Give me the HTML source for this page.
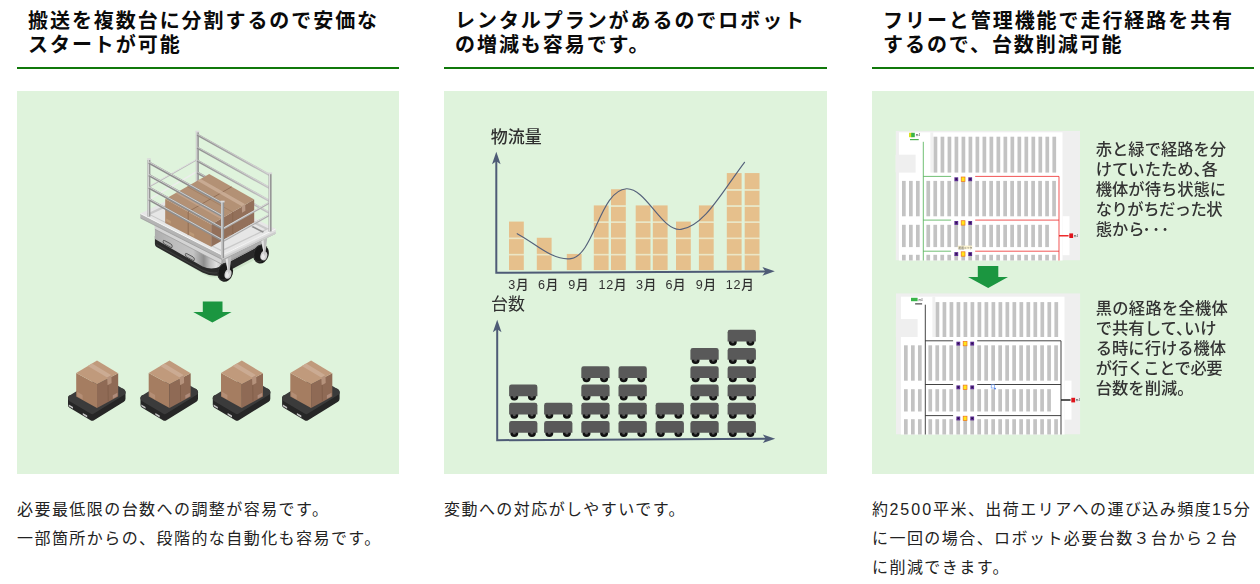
<!DOCTYPE html>
<html lang="ja">
<head>
<meta charset="utf-8">
<title>AMR</title>
<style>
*{box-sizing:border-box;margin:0;padding:0}
html,body{width:1260px;height:584px;overflow:hidden;background:#fff}
body{font-family:"Liberation Sans","Noto Sans CJK JP",sans-serif;color:#111;position:relative}
.col{position:absolute;top:0;width:383px}
.c1{left:17px;width:382px}.c2{left:444px}.c3{left:872px;width:382px}
h3{font-size:20px;line-height:24px;font-weight:700;letter-spacing:1.94px;padding:9px 0 0 11px;height:69px;border-bottom:2px solid #10780a;color:#0a0a0a;white-space:nowrap}
.fig{position:absolute;top:91px;left:0;width:100%;height:383px;background:#dff3dc;overflow:hidden}
.fig svg{position:absolute;left:0;top:0;filter:blur(0.35px)}
p.txt{position:absolute;top:496px;left:0;font-size:16px;line-height:28.8px;letter-spacing:1.44px;color:#222;white-space:nowrap}
.n{letter-spacing:2.0px}.n2{letter-spacing:1.9px}
</style>
</head>
<body>
<div class="col c1">
<h3>搬送を複数台に分割するので安価な<br>スタートが可能</h3>
<div class="fig">
<svg width="383" height="383" viewBox="17 91 383 383">
<defs><g id="amr">
<polygon points="-25.6,37.7 -4.8,50.1 25.1,31.6 25.1,38.2 -4.8,56.7 -25.6,44.3" fill="#262626" stroke="#262626" stroke-width="6.8" stroke-linejoin="round"/>
<polygon points="-25.6,37.7 -4.8,50.1 25.1,31.6 4.3,19.2" fill="#3b3b3b" stroke="#3b3b3b" stroke-width="6.8" stroke-linejoin="round"/>
<polygon points="-28.2,43.8 -24.0,46.3 -24.0,48.1 -28.2,45.6" fill="#c6c6c6"/>
<polygon points="-14.2,52.4 -9.8,55.0 -9.8,56.8 -14.2,54.2" fill="#c6c6c6"/>
<polygon points="-20.8,12.4 0.0,23.6 0.0,47.4 -20.8,35.9" fill="#a57d61"/>
<polygon points="0.0,23.6 21.2,12.6 21.2,35.8 0.0,47.4" fill="#8f6a55"/>
<polygon points="0.0,0.0 21.2,12.6 0.0,23.6 -20.8,12.4" fill="#c09a7c"/>
<polygon points="-9.2,5.5 -5,3 14.4,14.6 10.2,17" fill="#cbab93"/>
<polygon points="10.2,17 14.4,14.6 14.6,22.5 10.6,24.6" fill="#b5927c"/>
<polygon points="10.6,24.6 11.4,24.2 11.6,40.4 10.8,40.8" fill="#7f5c48"/>
<polygon points="-19.8,31.2 -14.4,34.4 -14.4,38.9 -19.8,35.7" fill="#b48e75"/>
<polygon points="15.8,34.7 20.4,32.1 20.4,35.6 15.8,38.2" fill="#ae8b7b"/>
</g></defs>
<defs><linearGradient id="gbody" gradientUnits="userSpaceOnUse" x1="155" y1="0" x2="221" y2="0"><stop offset="0" stop-color="#adadad"/><stop offset="0.3" stop-color="#bebebe"/><stop offset="0.58" stop-color="#c4c4c4"/><stop offset="0.68" stop-color="#a2a2a2"/><stop offset="0.74" stop-color="#8e8e8e"/><stop offset="0.83" stop-color="#bdbdbd"/><stop offset="0.93" stop-color="#e0e0e0"/><stop offset="1" stop-color="#c8c8c8"/></linearGradient><linearGradient id="grail" gradientUnits="userSpaceOnUse" x1="197" y1="0" x2="270" y2="0"><stop offset="0" stop-color="#909090"/><stop offset="0.5" stop-color="#a8a8a8"/><stop offset="1" stop-color="#c4c4c4"/></linearGradient></defs>
<path d="M157 247 L204 274.5 Q212 279 222 277 L268 253 L262 248 L215 270 Z" fill="#cfe5cb"/>
<path d="M154.9 236 L154.9 244.0 Q155 246.2 157 247.3 L202.4 272.6 Q211.5 277.2 220.5 275.2 L262 253 L262 240 L220 262 L205 262 Z" fill="#2a2a2a"/>
<path d="M156.5 244.6 L203 270.4 Q211.5 274.4 219.5 272.4" fill="none" stroke="#3c3c3c" stroke-width="1.2"/>
<path d="M154.9 223.5 L154.9 238.9 L202.6 266.6 Q211.5 270.6 220.6 266.4 L262 244.6 L262 232 L222 252 Z" fill="url(#gbody)"/>
<path d="M220.6 266.4 L262 244.6 L262 232 L222.6 252.5 Z" fill="#9b9b9b"/>
<path d="M154.9 222 L154.9 229.2 L221.4 264 L221.4 256.5 Z" fill="#d4d4d4"/>
<path d="M154.9 229.2 L221.4 264" stroke="#9a9a9a" stroke-width="0.7" fill="none"/>
<path d="M222.4 264 L262 243.4 L262 236 L222.4 256.5 Z" fill="#adadad"/>
<path d="M164.6 240.6 l6.2 3.3 q1.4 0.9 1.4 2.4 v0.5 q0 1.3 -1.4 0.6 l-6.2 -3.3 q-1.4 -0.9 -1.4 -2.4 v-0.5 q0 -1.3 1.4 -0.6 z" fill="#b2b2b2" stroke="#444" stroke-width="0.8"/>
<path d="M186.8 253.6 l6.2 3.3 q1.4 0.9 1.4 2.4 v0.5 q0 1.3 -1.4 0.6 l-6.2 -3.3 q-1.4 -0.9 -1.4 -2.4 v-0.5 q0 -1.3 1.4 -0.6 z" fill="#b2b2b2" stroke="#444" stroke-width="0.8"/>
<ellipse cx="261.0" cy="254.0" rx="7.7" ry="9.6" transform="rotate(15 261.0 254.0)" fill="#1a1a1a"/>
<ellipse cx="259.7" cy="253.6" rx="5.8" ry="8.4" transform="rotate(15 259.7 253.6)" fill="none" stroke="#383838" stroke-width="0.8"/>
<ellipse cx="263.8" cy="255.8" rx="3.4" ry="4.7" transform="rotate(15 263.8 255.8)" fill="#cfcfcf"/>
<ellipse cx="263.3" cy="256.4" rx="1.9" ry="3.0" transform="rotate(15 263.3 256.4)" fill="#e9e9e9"/>
<path d="M261.4 241.0 L267.2 238.0 L265.6 252.0 L264.4 256.2 L263.4 252.0 Z" fill="#bdbdbd"/>
<path d="M261.4 241.0 L263.6 239.9 L264.4 256.2 L263.4 252.0 Z" fill="#e2e2e2"/>
<ellipse cx="225.2" cy="272.3" rx="7.7" ry="9.6" transform="rotate(15 225.2 272.3)" fill="#1a1a1a"/>
<ellipse cx="223.89999999999998" cy="271.90000000000003" rx="5.8" ry="8.4" transform="rotate(15 223.89999999999998 271.90000000000003)" fill="none" stroke="#383838" stroke-width="0.8"/>
<ellipse cx="228.0" cy="274.1" rx="3.4" ry="4.7" transform="rotate(15 228.0 274.1)" fill="#cfcfcf"/>
<ellipse cx="227.5" cy="274.7" rx="1.9" ry="3.0" transform="rotate(15 227.5 274.7)" fill="#e9e9e9"/>
<path d="M225.6 259.3 L231.4 256.3 L229.8 270.3 L228.6 274.5 L227.6 270.3 Z" fill="#bdbdbd"/>
<path d="M225.6 259.3 L227.8 258.2 L228.6 274.5 L227.6 270.3 Z" fill="#e2e2e2"/>
<polygon points="140.4,213.6 222.0,255.0 222.0,259.4 140.4,218.0" fill="#b4b4b4"/>
<polyline points="140.4,218.0 222.0,259.4 275.7,233.4" fill="none" stroke="#9c9c9c" stroke-width="0.8"/>
<polygon points="222.0,255.0 275.7,229.0 275.7,233.4 222.0,259.4" fill="#e0e0e0"/>
<polygon points="222.0,257.6 275.7,231.6 275.7,233.4 222.0,259.4" fill="#cdcdcd"/>
<polygon points="140.4,213.6 222.0,255.0 275.7,229.0 194.1,187.6" fill="#e6e6e6"/>
<polyline points="140.4,213.6 222.0,255.0 275.7,229.0" fill="none" stroke="#f8f8f8" stroke-width="0.9"/>
<polygon points="147.0,213.8 221.8,251.6 269.0,228.8 194.3,191.2" fill="#c9c9c9"/>
<polygon points="150.6,214.4 221.6,250.0 265.2,229.2 194.5,194.0" fill="#e6e6e6"/>
<polygon points="253,226.0 264.2,231.8 262.6,232.7 251.4,226.9" fill="#8f8f8f"/>
<g stroke="#b9b9b9" stroke-width="1.5" fill="none"><path d="M148.9 186.8 L197.3 159.4"/></g>
<g stroke="#ededed" stroke-width="1.5" fill="none"><path d="M148.9 199.7 L197.3 171.4"/></g>
<g stroke="#f3f3f3" stroke-width="0.6" fill="none"><path d="M148.9 186.3 L197.3 158.9"/></g>
<rect x="195.9" y="131.2" width="3" height="58" fill="#979797"/><rect x="196.2" y="131.2" width="1.1" height="58" fill="#dedede"/><rect x="195.4" y="130.7" width="4" height="1.7" fill="#dcdcdc"/>
<path d="M197.3 134.7 L270 175.3" stroke="url(#grail)" stroke-width="2.4"/>
<path d="M197.3 134.1 L270 174.7" stroke="#e4e4e4" stroke-width="0.6"/>
<path d="M197.3 147.7 L270 188.3" stroke="url(#grail)" stroke-width="2.4"/>
<path d="M197.3 147.1 L270 187.7" stroke="#e4e4e4" stroke-width="0.6"/>
<path d="M197.3 160.7 L270 201.3" stroke="url(#grail)" stroke-width="2.4"/>
<path d="M197.3 160.1 L270 200.7" stroke="#e4e4e4" stroke-width="0.6"/>
<path d="M197.3 172.6 L270 213.2" stroke="url(#grail)" stroke-width="2.4"/>
<path d="M197.3 172.0 L270 212.6" stroke="#e4e4e4" stroke-width="0.6"/>
<polygon points="165.2,199.0 211.2,224.6 211.2,246.8 165.2,223.0" fill="#ae896b"/>
<polygon points="211.2,224.6 254.2,199.6 254.2,222.6 211.2,246.8" fill="#93705a"/>
<polygon points="165.2,199.0 209.2,174.1 254.2,199.6 211.2,224.6" fill="#b39175"/>
<g stroke="#86634b" stroke-width="0.7" fill="none"><path d="M188.2 211.8 L231.7 186.8"/><path d="M232.7 212.1 L187.2 186.6" opacity="0.5"/><path d="M188.2 211.8 v23.4"/><path d="M232.7 212.1 v22.799999999999997"/></g>
<polygon points="197.4,180.8 200.8,178.9 245.2,204.3 241.8,206.2" fill="#cdb09a" opacity="0.8"/>
<polygon points="175.6,193.0 179.0,191.1 223.4,216.5 220.0,218.4" fill="#cdb09a" opacity="0.55"/>
<polygon points="241.8,206.2 245.2,204.3 245.4,210.8 242.0,212.7" fill="#b99a86"/>
<polygon points="166.2,218.4 170.8,221 170.8,223.8 166.2,221.2" fill="#bd9a78"/><polygon points="189.4,231.4 194.2,234.1 194.2,237 189.4,234.3" fill="#bd9a78"/><polygon points="226.6,236.8 230.6,234.6 230.6,237.4 226.6,239.6" fill="#a8836c"/>
<g stroke="#adadad" stroke-width="2" fill="none"><path d="M222.5 229.2 L270 202.4"/><path d="M222.5 241.4 L270 214.6"/></g>
<g stroke="#ececec" stroke-width="0.7" fill="none"><path d="M222.5 228.6 L270 201.8"/><path d="M222.5 240.8 L270 214.0"/></g>
<rect x="268.6" y="173.0" width="3" height="58.6" fill="#979797"/><rect x="268.9" y="173.0" width="1.1" height="58.6" fill="#dcdcdc"/><rect x="268.1" y="172.5" width="4" height="1.7" fill="#d6d6d6"/>
<rect x="147.4" y="158.8" width="3" height="57.8" fill="#979797"/><rect x="147.7" y="158.8" width="1.1" height="57.8" fill="#e0e0e0"/><rect x="146.9" y="158.3" width="4" height="1.7" fill="#dddddd"/>
<path d="M148.9 162.6 L222.5 203.6" stroke="#8e8e8e" stroke-width="2.5"/>
<path d="M148.9 161.9 L222.5 202.9" stroke="#e0e0e0" stroke-width="0.8"/>
<path d="M148.9 175.2 L222.5 216.2" stroke="#8e8e8e" stroke-width="2.5"/>
<path d="M148.9 174.5 L222.5 215.5" stroke="#e0e0e0" stroke-width="0.8"/>
<path d="M148.9 187.6 L222.5 228.6" stroke="#8e8e8e" stroke-width="2.5"/>
<path d="M148.9 186.9 L222.5 227.9" stroke="#e0e0e0" stroke-width="0.8"/>
<path d="M148.9 199.4 L222.5 240.4" stroke="#8e8e8e" stroke-width="2.5"/>
<path d="M148.9 198.70000000000002 L222.5 239.7" stroke="#e0e0e0" stroke-width="0.8"/>
<rect x="221" y="201.2" width="3.1" height="57" fill="#959595"/><rect x="221.3" y="201.2" width="1.2" height="57" fill="#e0e0e0"/><rect x="220.5" y="200.7" width="4.1" height="1.7" fill="#dadada"/>
<path d="M202.8 301.5 H222.5 V312.1 H231.6 L212.4 322.4 L193.2 312.1 H202.8 Z" fill="#1b9640"/>
<use href="#amr" x="97.0" y="360.6"/>
<use href="#amr" x="169.5" y="360.6"/>
<use href="#amr" x="241.8" y="360.6"/>
<use href="#amr" x="311.1" y="360.6"/>
</svg>
</div>
<p class="txt">必要最低限の台数への調整が容易です。<br>一部箇所からの、段階的な自動化も容易です。</p>
</div>
<div class="col c2">
<h3>レンタルプランがあるのでロボット<br>の増減も容易です。</h3>
<div class="fig">
<svg width="383" height="383" viewBox="444 91 383 383">
<g fill="#e6c08c">
<rect x="509.0" y="255.23" width="14.8" height="14.87"/>
<rect x="509.0" y="239.06" width="14.8" height="14.87"/>
<rect x="509.0" y="221.59" width="14.8" height="16.17"/>
<rect x="536.8" y="255.23" width="14.8" height="14.87"/>
<rect x="536.8" y="237.76" width="14.8" height="16.17"/>
<rect x="566.8" y="253.93" width="14.8" height="16.17"/>
<rect x="593.8" y="255.23" width="14.8" height="14.87"/>
<rect x="593.8" y="239.06" width="14.8" height="14.87"/>
<rect x="593.8" y="222.89" width="14.8" height="14.87"/>
<rect x="593.8" y="205.42" width="14.8" height="16.17"/>
<rect x="611.0" y="255.23" width="14.8" height="14.87"/>
<rect x="611.0" y="239.06" width="14.8" height="14.87"/>
<rect x="611.0" y="222.89" width="14.8" height="14.87"/>
<rect x="611.0" y="206.72" width="14.8" height="14.87"/>
<rect x="611.0" y="189.25" width="14.8" height="16.17"/>
<rect x="635.7" y="255.23" width="14.8" height="14.87"/>
<rect x="635.7" y="239.06" width="14.8" height="14.87"/>
<rect x="635.7" y="222.89" width="14.8" height="14.87"/>
<rect x="635.7" y="205.42" width="14.8" height="16.17"/>
<rect x="652.8" y="255.23" width="14.8" height="14.87"/>
<rect x="652.8" y="239.06" width="14.8" height="14.87"/>
<rect x="652.8" y="222.89" width="14.8" height="14.87"/>
<rect x="652.8" y="205.42" width="14.8" height="16.17"/>
<rect x="676.0" y="255.23" width="14.8" height="14.87"/>
<rect x="676.0" y="239.06" width="14.8" height="14.87"/>
<rect x="676.0" y="221.59" width="14.8" height="16.17"/>
<rect x="698.9" y="255.23" width="14.8" height="14.87"/>
<rect x="698.9" y="239.06" width="14.8" height="14.87"/>
<rect x="698.9" y="222.89" width="14.8" height="14.87"/>
<rect x="698.9" y="205.42" width="14.8" height="16.17"/>
<rect x="726.8" y="255.23" width="14.8" height="14.87"/>
<rect x="726.8" y="239.06" width="14.8" height="14.87"/>
<rect x="726.8" y="222.89" width="14.8" height="14.87"/>
<rect x="726.8" y="206.72" width="14.8" height="14.87"/>
<rect x="726.8" y="190.55" width="14.8" height="14.87"/>
<rect x="726.8" y="173.08" width="14.8" height="16.17"/>
<rect x="744.7" y="255.23" width="14.8" height="14.87"/>
<rect x="744.7" y="239.06" width="14.8" height="14.87"/>
<rect x="744.7" y="222.89" width="14.8" height="14.87"/>
<rect x="744.7" y="206.72" width="14.8" height="14.87"/>
<rect x="744.7" y="190.55" width="14.8" height="14.87"/>
<rect x="744.7" y="173.08" width="14.8" height="16.17"/>
</g>
<g fill="#ece6c6">
<rect x="509.0" y="253.93" width="14.8" height="1.3"/>
<rect x="509.0" y="237.76" width="14.8" height="1.3"/>
<rect x="536.8" y="253.93" width="14.8" height="1.3"/>
<rect x="593.8" y="253.93" width="14.8" height="1.3"/>
<rect x="593.8" y="237.76" width="14.8" height="1.3"/>
<rect x="593.8" y="221.59" width="14.8" height="1.3"/>
<rect x="611.0" y="253.93" width="14.8" height="1.3"/>
<rect x="611.0" y="237.76" width="14.8" height="1.3"/>
<rect x="611.0" y="221.59" width="14.8" height="1.3"/>
<rect x="611.0" y="205.42" width="14.8" height="1.3"/>
<rect x="635.7" y="253.93" width="14.8" height="1.3"/>
<rect x="635.7" y="237.76" width="14.8" height="1.3"/>
<rect x="635.7" y="221.59" width="14.8" height="1.3"/>
<rect x="652.8" y="253.93" width="14.8" height="1.3"/>
<rect x="652.8" y="237.76" width="14.8" height="1.3"/>
<rect x="652.8" y="221.59" width="14.8" height="1.3"/>
<rect x="676.0" y="253.93" width="14.8" height="1.3"/>
<rect x="676.0" y="237.76" width="14.8" height="1.3"/>
<rect x="698.9" y="253.93" width="14.8" height="1.3"/>
<rect x="698.9" y="237.76" width="14.8" height="1.3"/>
<rect x="698.9" y="221.59" width="14.8" height="1.3"/>
<rect x="726.8" y="253.93" width="14.8" height="1.3"/>
<rect x="726.8" y="237.76" width="14.8" height="1.3"/>
<rect x="726.8" y="221.59" width="14.8" height="1.3"/>
<rect x="726.8" y="205.42" width="14.8" height="1.3"/>
<rect x="726.8" y="189.25" width="14.8" height="1.3"/>
<rect x="744.7" y="253.93" width="14.8" height="1.3"/>
<rect x="744.7" y="237.76" width="14.8" height="1.3"/>
<rect x="744.7" y="221.59" width="14.8" height="1.3"/>
<rect x="744.7" y="205.42" width="14.8" height="1.3"/>
<rect x="744.7" y="189.25" width="14.8" height="1.3"/>
</g>
<path d="M517.2 233.7 C535 243,552 261,571 258.6 C594 255.5,600 190,626.5 188.8 C646 188,662 232,681 229.4 C704 226.5,722 192,744.5 162.3" fill="none" stroke="#55617b" stroke-width="1.15" stroke-linecap="round"/>
<g stroke="#4e5b76" stroke-width="2" fill="none" stroke-linejoin="miter"><path d="M496.3 160 L496.3 272.8 L766 271.4"/></g>
<path d="M496.3 151.8 L500.6 164.2 L496.3 161.2 L492 164.2 Z" fill="#4e5b76"/>
<path d="M774.8 271.3 L762.4 275.7 L765.4 271.4 L762.4 267 Z" fill="#4e5b76"/>
<g stroke="#4e5b76" stroke-width="2" fill="none"><path d="M497.2 328 L497.2 440.2 L766 438.8"/></g>
<path d="M497.2 319.8 L501.5 332.2 L497.2 329.2 L492.9 332.2 Z" fill="#4e5b76"/>
<path d="M775.2 438.7 L762.8 443.1 L765.8 438.8 L762.8 434.4 Z" fill="#4e5b76"/>
<g font-family='"Liberation Sans","Noto Sans CJK JP",sans-serif' fill="#303030">
<text x="490.8" y="142.6" font-size="17" font-weight="500">物流量</text>
<text x="491" y="309.8" font-size="17" font-weight="400">台数</text>
<g font-size="12.6" font-weight="500" letter-spacing="0.7">
<text x="508.3" y="289.3">3月</text>
<text x="538.0" y="289.3">6月</text>
<text x="568.3" y="289.3">9月</text>
<text x="598.6" y="289.3">12月</text>
<text x="636.0" y="289.3">3月</text>
<text x="665.4" y="289.3">6月</text>
<text x="695.8" y="289.3">9月</text>
<text x="725.8" y="289.3">12月</text>
</g></g>
<defs><g id="rb"><circle cx="5.2" cy="12" r="4" fill="#111"/><circle cx="22.8" cy="12" r="4" fill="#111"/><circle cx="5.2" cy="12" r="1.5" fill="#555"/><circle cx="22.8" cy="12" r="1.5" fill="#555"/><path d="M0 11.7 V2.4 Q0 0 2.4 0 H25.9 Q28.3 0 28.3 2.4 V11.7 Z" fill="#595959"/></g></defs>
<use href="#rb" x="509.1" y="421.10"/>
<use href="#rb" x="509.1" y="402.85"/>
<use href="#rb" x="509.1" y="384.60"/>
<use href="#rb" x="544.1" y="421.10"/>
<use href="#rb" x="544.1" y="402.85"/>
<use href="#rb" x="581.3" y="421.10"/>
<use href="#rb" x="581.3" y="402.85"/>
<use href="#rb" x="581.3" y="384.60"/>
<use href="#rb" x="581.3" y="366.35"/>
<use href="#rb" x="618.5" y="421.10"/>
<use href="#rb" x="618.5" y="402.85"/>
<use href="#rb" x="618.5" y="384.60"/>
<use href="#rb" x="618.5" y="366.35"/>
<use href="#rb" x="655.6" y="421.10"/>
<use href="#rb" x="655.6" y="402.85"/>
<use href="#rb" x="690.4" y="421.10"/>
<use href="#rb" x="690.4" y="402.85"/>
<use href="#rb" x="690.4" y="384.60"/>
<use href="#rb" x="690.4" y="366.35"/>
<use href="#rb" x="690.4" y="348.10"/>
<use href="#rb" x="727.6" y="421.10"/>
<use href="#rb" x="727.6" y="402.85"/>
<use href="#rb" x="727.6" y="384.60"/>
<use href="#rb" x="727.6" y="366.35"/>
<use href="#rb" x="727.6" y="348.10"/>
<use href="#rb" x="727.6" y="329.85"/>
</svg>
</div>
<p class="txt">変動への対応がしやすいです。</p>
</div>
<div class="col c3">
<h3>フリーと管理機能で走行経路を共有<br>するので、台数削減可能</h3>
<div class="fig">
<svg width="388" height="383" viewBox="872 91 388 383">
<defs><clipPath id="clipcolor"><rect x="0" y="0" width="184.4" height="129.6"/></clipPath></defs>
<g transform="translate(895.6 130.8)" clip-path="url(#clipcolor)">
<rect x="0" y="0" width="184.4" height="129.6" fill="#efefef"/>
<g transform="translate(0 0)">
<rect x="3.3" y="1.5" width="163.6" height="200" fill="#fff"/>
<rect x="-5" y="23.9" width="25" height="17.9" fill="#efefef"/>
<rect x="166.9" y="85.4" width="7.0" height="39" fill="#fff"/>
<rect x="34.8" y="1.5" width="2.8" height="40.3" fill="#f1f1f1"/>
<g fill="#c3c3c3">
<rect x="38.00" y="5.9" width="3.7" height="35.9"/>
<rect x="44.99" y="5.9" width="3.7" height="35.9"/>
<rect x="51.98" y="5.9" width="3.7" height="35.9"/>
<rect x="58.97" y="5.9" width="3.7" height="35.9"/>
<rect x="65.96" y="5.9" width="3.7" height="35.9"/>
<rect x="72.95" y="5.9" width="3.7" height="35.9"/>
<rect x="79.94" y="5.9" width="3.7" height="35.9"/>
<rect x="86.93" y="5.9" width="3.7" height="35.9"/>
<rect x="93.92" y="5.9" width="3.7" height="35.9"/>
<rect x="100.91" y="5.9" width="3.7" height="35.9"/>
<rect x="107.90" y="5.9" width="3.7" height="35.9"/>
<rect x="114.89" y="5.9" width="3.7" height="35.9"/>
<rect x="121.88" y="5.9" width="3.7" height="35.9"/>
<rect x="128.87" y="5.9" width="3.7" height="35.9"/>
<rect x="135.86" y="5.9" width="3.7" height="35.9"/>
<rect x="142.85" y="5.9" width="3.7" height="35.9"/>
<rect x="149.84" y="5.9" width="3.7" height="35.9"/>
<rect x="156.83" y="5.9" width="3.7" height="35.9"/>
<rect x="6.40" y="50.1" width="3.7" height="35.4"/>
<rect x="13.39" y="50.1" width="3.7" height="35.4"/>
<rect x="20.38" y="50.1" width="3.7" height="35.4"/>
<rect x="30.80" y="50.1" width="3.7" height="35.4"/>
<rect x="37.79" y="50.1" width="3.7" height="35.4"/>
<rect x="44.78" y="50.1" width="3.7" height="35.4"/>
<rect x="51.77" y="50.1" width="3.7" height="35.4"/>
<rect x="58.76" y="50.1" width="3.7" height="35.4"/>
<rect x="65.75" y="50.1" width="3.7" height="35.4"/>
<rect x="72.74" y="50.1" width="3.7" height="35.4"/>
<rect x="79.73" y="50.1" width="3.7" height="35.4"/>
<rect x="86.72" y="50.1" width="3.7" height="35.4"/>
<rect x="93.71" y="50.1" width="3.7" height="35.4"/>
<rect x="100.70" y="50.1" width="3.7" height="35.4"/>
<rect x="107.69" y="50.1" width="3.7" height="35.4"/>
<rect x="114.68" y="50.1" width="3.7" height="35.4"/>
<rect x="121.67" y="50.1" width="3.7" height="35.4"/>
<rect x="128.66" y="50.1" width="3.7" height="35.4"/>
<rect x="135.65" y="50.1" width="3.7" height="35.4"/>
<rect x="142.64" y="50.1" width="3.7" height="35.4"/>
<rect x="149.63" y="50.1" width="3.7" height="35.4"/>
<rect x="156.62" y="50.1" width="3.7" height="35.4"/>
<rect x="6.40" y="94" width="3.7" height="22.3"/>
<rect x="13.39" y="94" width="3.7" height="22.3"/>
<rect x="20.38" y="94" width="3.7" height="22.3"/>
<rect x="30.80" y="94" width="3.7" height="22.3"/>
<rect x="37.79" y="94" width="3.7" height="22.3"/>
<rect x="44.78" y="94" width="3.7" height="22.3"/>
<rect x="51.77" y="94" width="3.7" height="22.3"/>
<rect x="58.76" y="94" width="3.7" height="22.3"/>
<rect x="65.75" y="94" width="3.7" height="22.3"/>
<rect x="72.74" y="94" width="3.7" height="22.3"/>
<rect x="79.73" y="94" width="3.7" height="22.3"/>
<rect x="86.72" y="94" width="3.7" height="22.3"/>
<rect x="93.71" y="94" width="3.7" height="22.3"/>
<rect x="100.70" y="94" width="3.7" height="22.3"/>
<rect x="107.69" y="94" width="3.7" height="22.3"/>
<rect x="114.68" y="94" width="3.7" height="22.3"/>
<rect x="121.67" y="94" width="3.7" height="22.3"/>
<rect x="128.66" y="94" width="3.7" height="22.3"/>
<rect x="135.65" y="94" width="3.7" height="22.3"/>
<rect x="142.64" y="94" width="3.7" height="22.3"/>
<rect x="149.63" y="94" width="3.7" height="22.3"/>
<rect x="6.40" y="124" width="3.7" height="26.0"/>
<rect x="13.39" y="124" width="3.7" height="26.0"/>
<rect x="20.38" y="124" width="3.7" height="26.0"/>
<rect x="30.80" y="124" width="3.7" height="26.0"/>
<rect x="37.79" y="124" width="3.7" height="26.0"/>
<rect x="44.78" y="124" width="3.7" height="26.0"/>
<rect x="51.77" y="124" width="3.7" height="26.0"/>
<rect x="58.76" y="124" width="3.7" height="26.0"/>
<rect x="65.75" y="124" width="3.7" height="26.0"/>
<rect x="72.74" y="124" width="3.7" height="26.0"/>
<rect x="79.73" y="124" width="3.7" height="26.0"/>
<rect x="86.72" y="124" width="3.7" height="26.0"/>
<rect x="93.71" y="124" width="3.7" height="26.0"/>
<rect x="100.70" y="124" width="3.7" height="26.0"/>
<rect x="107.69" y="124" width="3.7" height="26.0"/>
<rect x="114.68" y="124" width="3.7" height="26.0"/>
<rect x="121.67" y="124" width="3.7" height="26.0"/>
<rect x="128.66" y="124" width="3.7" height="26.0"/>
<rect x="135.65" y="124" width="3.7" height="26.0"/>
<rect x="142.64" y="124" width="3.7" height="26.0"/>
<rect x="149.63" y="124" width="3.7" height="26.0"/>
<rect x="156.62" y="124" width="3.7" height="26.0"/>
</g>
<g fill="none" stroke="#4caf50" stroke-width="0.8"><path d="M27.7 11 V160"/>
<path d="M27.7 45.6 H55.5"/>
<path d="M27.7 89.3 H55.5"/>
<path d="M27.7 120.4 H55.5"/>
</g>
<g fill="none" stroke="#ee2b2b" stroke-width="0.8"><path d="M163.4 45.6 V160"/>
<path d="M79.6 45.6 H163.4"/>
<path d="M79.6 89.3 H163.4"/>
<path d="M79.6 120.4 H163.4"/>
</g>
<path d="M163.4 104.9 H173" stroke="#ee2b2b" stroke-width="1.5"/>
<rect x="173.7" y="102.6" width="3.8" height="4.6" fill="#e0121c"/>
<rect x="13.4" y="2" width="3.6" height="4.4" fill="#d9e021"/><rect x="15.6" y="2" width="3.6" height="4.4" fill="#39b54a"/><rect x="14.4" y="8.2" width="8.7" height="1.2" fill="#4caf50"/>
<rect x="58.8" y="46.5" width="3.8" height="3.9" fill="#5b2a91"/><rect x="72.7" y="46.5" width="3.8" height="3.9" fill="#5b2a91"/>
<rect x="65.6" y="46.2" width="3.8" height="4.4" fill="#ffe61a" stroke="#f0731c" stroke-width="0.7"/>
<rect x="60" y="47.6" width="1.3" height="1.4" fill="#1c0d33"/><rect x="73.9" y="47.6" width="1.3" height="1.4" fill="#1c0d33"/>
<rect x="58.8" y="90.2" width="3.8" height="3.9" fill="#5b2a91"/><rect x="72.7" y="90.2" width="3.8" height="3.9" fill="#5b2a91"/>
<rect x="65.6" y="89.9" width="3.8" height="4.4" fill="#ffe61a" stroke="#f0731c" stroke-width="0.7"/>
<rect x="60" y="91.3" width="1.3" height="1.4" fill="#1c0d33"/><rect x="73.9" y="91.3" width="1.3" height="1.4" fill="#1c0d33"/>
<rect x="58.8" y="121.3" width="3.8" height="3.9" fill="#5b2a91"/><rect x="72.7" y="121.3" width="3.8" height="3.9" fill="#5b2a91"/>
<rect x="65.6" y="121.0" width="3.8" height="4.4" fill="#ffe61a" stroke="#f0731c" stroke-width="0.7"/>
<rect x="60" y="122.4" width="1.3" height="1.4" fill="#1c0d33"/><rect x="73.9" y="122.4" width="1.3" height="1.4" fill="#1c0d33"/>
<rect x="62.2" y="114.8" width="14.4" height="3.6" fill="#fbf2cf"/>
<text x="62.8" y="117.8" font-size="2.8" fill="#444" font-family='"Liberation Sans","Noto Sans CJK JP",sans-serif'>配置ドック</text>
<text x="20" y="5.6" font-size="2.8" fill="#333" font-family='"Liberation Sans","Noto Sans CJK JP",sans-serif'>日4</text>
<text x="178" y="106" font-size="2.8" fill="#333" font-family='"Liberation Sans","Noto Sans CJK JP",sans-serif'>日4</text>
</g></g>
<defs><clipPath id="clipblack"><rect x="0" y="0" width="184.4" height="141.4"/></clipPath></defs>
<g transform="translate(895.9 293.2)" clip-path="url(#clipblack)">
<rect x="0" y="0" width="184.4" height="141.4" fill="#efefef"/>
<g transform="translate(1.7 2.0)">
<rect x="3.3" y="1.5" width="163.6" height="200" fill="#fff"/>
<rect x="-5" y="23.9" width="25" height="17.9" fill="#efefef"/>
<rect x="166.9" y="85.4" width="7.0" height="39" fill="#fff"/>
<rect x="34.8" y="1.5" width="2.8" height="40.3" fill="#f1f1f1"/>
<g fill="#c3c3c3">
<rect x="38.00" y="6.9" width="3.7" height="34.9"/>
<rect x="44.99" y="6.9" width="3.7" height="34.9"/>
<rect x="51.98" y="6.9" width="3.7" height="34.9"/>
<rect x="58.97" y="6.9" width="3.7" height="34.9"/>
<rect x="65.96" y="6.9" width="3.7" height="34.9"/>
<rect x="72.95" y="6.9" width="3.7" height="34.9"/>
<rect x="79.94" y="6.9" width="3.7" height="34.9"/>
<rect x="86.93" y="6.9" width="3.7" height="34.9"/>
<rect x="93.92" y="6.9" width="3.7" height="34.9"/>
<rect x="100.91" y="6.9" width="3.7" height="34.9"/>
<rect x="107.90" y="6.9" width="3.7" height="34.9"/>
<rect x="114.89" y="6.9" width="3.7" height="34.9"/>
<rect x="121.88" y="6.9" width="3.7" height="34.9"/>
<rect x="128.87" y="6.9" width="3.7" height="34.9"/>
<rect x="135.86" y="6.9" width="3.7" height="34.9"/>
<rect x="142.85" y="6.9" width="3.7" height="34.9"/>
<rect x="149.84" y="6.9" width="3.7" height="34.9"/>
<rect x="156.83" y="6.9" width="3.7" height="34.9"/>
<rect x="6.40" y="50.1" width="3.7" height="35.4"/>
<rect x="13.39" y="50.1" width="3.7" height="35.4"/>
<rect x="20.38" y="50.1" width="3.7" height="35.4"/>
<rect x="30.80" y="50.1" width="3.7" height="35.4"/>
<rect x="37.79" y="50.1" width="3.7" height="35.4"/>
<rect x="44.78" y="50.1" width="3.7" height="35.4"/>
<rect x="51.77" y="50.1" width="3.7" height="35.4"/>
<rect x="58.76" y="50.1" width="3.7" height="35.4"/>
<rect x="65.75" y="50.1" width="3.7" height="35.4"/>
<rect x="72.74" y="50.1" width="3.7" height="35.4"/>
<rect x="79.73" y="50.1" width="3.7" height="35.4"/>
<rect x="86.72" y="50.1" width="3.7" height="35.4"/>
<rect x="93.71" y="50.1" width="3.7" height="35.4"/>
<rect x="100.70" y="50.1" width="3.7" height="35.4"/>
<rect x="107.69" y="50.1" width="3.7" height="35.4"/>
<rect x="114.68" y="50.1" width="3.7" height="35.4"/>
<rect x="121.67" y="50.1" width="3.7" height="35.4"/>
<rect x="128.66" y="50.1" width="3.7" height="35.4"/>
<rect x="135.65" y="50.1" width="3.7" height="35.4"/>
<rect x="142.64" y="50.1" width="3.7" height="35.4"/>
<rect x="149.63" y="50.1" width="3.7" height="35.4"/>
<rect x="156.62" y="50.1" width="3.7" height="35.4"/>
<rect x="6.40" y="94" width="3.7" height="22.3"/>
<rect x="13.39" y="94" width="3.7" height="22.3"/>
<rect x="20.38" y="94" width="3.7" height="22.3"/>
<rect x="30.80" y="94" width="3.7" height="22.3"/>
<rect x="37.79" y="94" width="3.7" height="22.3"/>
<rect x="44.78" y="94" width="3.7" height="22.3"/>
<rect x="51.77" y="94" width="3.7" height="22.3"/>
<rect x="58.76" y="94" width="3.7" height="22.3"/>
<rect x="65.75" y="94" width="3.7" height="22.3"/>
<rect x="72.74" y="94" width="3.7" height="22.3"/>
<rect x="79.73" y="94" width="3.7" height="22.3"/>
<rect x="86.72" y="94" width="3.7" height="22.3"/>
<rect x="93.71" y="94" width="3.7" height="22.3"/>
<rect x="100.70" y="94" width="3.7" height="22.3"/>
<rect x="107.69" y="94" width="3.7" height="22.3"/>
<rect x="114.68" y="94" width="3.7" height="22.3"/>
<rect x="121.67" y="94" width="3.7" height="22.3"/>
<rect x="128.66" y="94" width="3.7" height="22.3"/>
<rect x="135.65" y="94" width="3.7" height="22.3"/>
<rect x="142.64" y="94" width="3.7" height="22.3"/>
<rect x="149.63" y="94" width="3.7" height="22.3"/>
<rect x="6.40" y="124" width="3.7" height="26.0"/>
<rect x="13.39" y="124" width="3.7" height="26.0"/>
<rect x="20.38" y="124" width="3.7" height="26.0"/>
<rect x="30.80" y="124" width="3.7" height="26.0"/>
<rect x="37.79" y="124" width="3.7" height="26.0"/>
<rect x="44.78" y="124" width="3.7" height="26.0"/>
<rect x="51.77" y="124" width="3.7" height="26.0"/>
<rect x="58.76" y="124" width="3.7" height="26.0"/>
<rect x="65.75" y="124" width="3.7" height="26.0"/>
<rect x="72.74" y="124" width="3.7" height="26.0"/>
<rect x="79.73" y="124" width="3.7" height="26.0"/>
<rect x="86.72" y="124" width="3.7" height="26.0"/>
<rect x="93.71" y="124" width="3.7" height="26.0"/>
<rect x="100.70" y="124" width="3.7" height="26.0"/>
<rect x="107.69" y="124" width="3.7" height="26.0"/>
<rect x="114.68" y="124" width="3.7" height="26.0"/>
<rect x="121.67" y="124" width="3.7" height="26.0"/>
<rect x="128.66" y="124" width="3.7" height="26.0"/>
<rect x="135.65" y="124" width="3.7" height="26.0"/>
<rect x="142.64" y="124" width="3.7" height="26.0"/>
<rect x="149.63" y="124" width="3.7" height="26.0"/>
<rect x="156.62" y="124" width="3.7" height="26.0"/>
</g>
<g fill="none" stroke="#222" stroke-width="0.85"><path d="M27.7 9.5 V160"/><path d="M163.4 45.6 V160"/>
<path d="M27.7 45.6 H55.5 M79.6 45.6 H163.4"/>
<path d="M27.7 89.3 H55.5 M79.6 89.3 H163.4"/>
<path d="M27.7 120.4 H55.5 M79.6 120.4 H163.4"/>
</g>
<path d="M163.4 104.9 H173" stroke="#222" stroke-width="1.5"/>
<rect x="173.7" y="102.6" width="3.8" height="4.6" fill="#e0121c"/>
<rect x="13.4" y="2.6" width="6.6" height="3.4" fill="#39b54a"/><rect x="17.5" y="8.2" width="7" height="1" fill="#222"/>
<rect x="93.6" y="89.6" width="3.2" height="3.2" fill="#fff" stroke="#5b8def" stroke-width="0.6"/><circle cx="97.4" cy="93.4" r="0.9" fill="#3b6fe0"/>
<rect x="58.8" y="46.5" width="3.8" height="3.9" fill="#5b2a91"/><rect x="72.7" y="46.5" width="3.8" height="3.9" fill="#5b2a91"/>
<rect x="65.6" y="46.2" width="3.8" height="4.4" fill="#ffe61a" stroke="#f0731c" stroke-width="0.7"/>
<rect x="60" y="47.6" width="1.3" height="1.4" fill="#1c0d33"/><rect x="73.9" y="47.6" width="1.3" height="1.4" fill="#1c0d33"/>
<rect x="58.8" y="90.2" width="3.8" height="3.9" fill="#5b2a91"/><rect x="72.7" y="90.2" width="3.8" height="3.9" fill="#5b2a91"/>
<rect x="65.6" y="89.9" width="3.8" height="4.4" fill="#ffe61a" stroke="#f0731c" stroke-width="0.7"/>
<rect x="60" y="91.3" width="1.3" height="1.4" fill="#1c0d33"/><rect x="73.9" y="91.3" width="1.3" height="1.4" fill="#1c0d33"/>
<rect x="58.8" y="121.3" width="3.8" height="3.9" fill="#5b2a91"/><rect x="72.7" y="121.3" width="3.8" height="3.9" fill="#5b2a91"/>
<rect x="65.6" y="121.0" width="3.8" height="4.4" fill="#ffe61a" stroke="#f0731c" stroke-width="0.7"/>
<rect x="60" y="122.4" width="1.3" height="1.4" fill="#1c0d33"/><rect x="73.9" y="122.4" width="1.3" height="1.4" fill="#1c0d33"/>
<text x="20.6" y="5.6" font-size="2.8" fill="#333" font-family='"Liberation Sans","Noto Sans CJK JP",sans-serif'>日4</text>
<text x="178" y="106" font-size="2.8" fill="#333" font-family='"Liberation Sans","Noto Sans CJK JP",sans-serif'>日4</text>
</g></g>
<path d="M977.8 265.9 H998.3 V276.9 H1008 L988.2 288 L968 276.9 H977.8 Z" fill="#1b9640"/>
<g font-family='"Liberation Sans","Noto Sans CJK JP",sans-serif' font-size="16.3" font-weight="500" fill="#333">
<text x="1095.8" y="154.9">赤と緑で経路を分</text>
<text x="1095.8" y="174.8">けていたため、<tspan dx="-8.2">各</tspan></text>
<text x="1095.8" y="194.8">機体が待ち状態に</text>
<text x="1095.8" y="214.8" textLength="126.8" lengthAdjust="spacing">なりがちだった状</text>
<text x="1095.8" y="234.7">態から<tspan x="1142.6">･</tspan><tspan x="1151.9">･</tspan><tspan x="1161.1">･</tspan></text>
<text x="1095.8" y="313.5" textLength="132" lengthAdjust="spacing">黒の経路を全機体</text>
<text x="1095.8" y="333.6">で共有して、<tspan dx="-8.2">いけ</tspan></text>
<text x="1095.8" y="353.7">る時に行ける機体</text>
<text x="1095.8" y="373.8" textLength="126.8" lengthAdjust="spacing">が行くことで必要</text>
<text x="1095.8" y="393.9">台数を削減。</text>
</g>
</svg>
</div>
<p class="txt">約<span class="n">2500</span>平米、出荷エリアへの運び込み頻度<span class="n2">15</span>分<br>に一回の場合、ロボット必要台数３台から２台<br>に削減できます。</p>
</div>
</body>
</html>
